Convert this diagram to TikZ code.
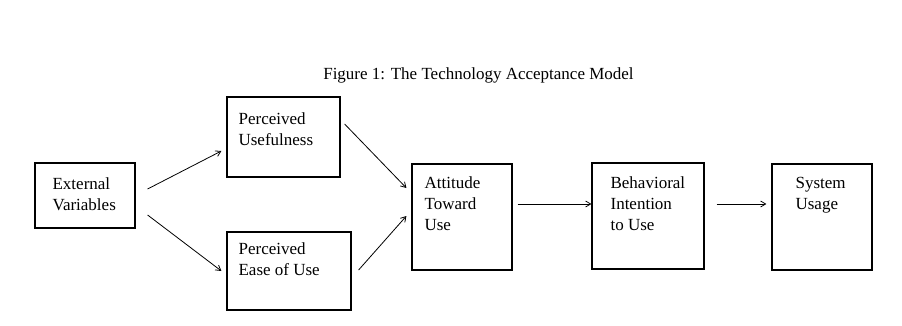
\documentclass[tikz,border=0pt]{standalone}
\usepackage{fontspec}
\setmainfont{Liberation Serif}
\usetikzlibrary{arrows.meta,calc}
\begin{document}
\begin{tikzpicture}[x=1pt,y=-1pt,
  box/.style={draw,line width=1.2pt,inner sep=0pt,minimum width=#1},
  txt/.style={font=\fontsize{17}{21}\selectfont,align=left,inner sep=0pt,anchor=base west},
  arr/.style={line width=0.8pt,-{Straight Barb[length=5pt,width=6pt]}}]
\useasboundingbox[fill=white] (0,0) rectangle (902,326);
\node[font=\fontsize{17}{21}\selectfont,inner sep=0pt,anchor=base] (title) at (478.5,80) {Figure 1: The Technology Acceptance Model};
% boxes
\node[box=100pt,minimum height=65pt] (ev) at (85,195.5) {};
\node[box=113pt,minimum height=80pt] (pu) at (283.5,137) {};
\node[box=124pt,minimum height=78pt] (peu) at (289,271) {};
\node[box=100pt,minimum height=106pt] (att) at (462,217) {};
\node[box=112pt,minimum height=106pt] (bi) at (648,216) {};
\node[box=100pt,minimum height=106pt] (su) at (822,217) {};
% texts (base anchor = baseline of last line)
\node[txt] (evt) at ($(ev.north west)+(18,48)$) {External\\Variables};
\node[txt] (put) at ($(pu.north west)+(12,49)$) {Perceived\\Usefulness};
\node[txt] (peut) at ($(peu.north west)+(12,44)$) {Perceived\\Ease of Use};
\node[txt] (attt) at ($(att.north west)+(13,67)$) {Attitude\\Toward\\Use};
\node[txt] (bit) at ($(bi.north west)+(19,68)$) {Behavioral\\Intention\\to Use};
\node[txt] (sut) at ($(su.north west)+(24,46)$) {System\\Usage};
% arrows
\draw[arr] ($(ev.east)+(12,-6.5)$) -- ($(pu.west)+(-5,14)$);
\draw[arr] ($(ev.east)+(12,19.5)$) -- ($(peu.west)+(-5,0)$);
\draw[arr] ($(pu.east)+(4,-13)$) -- ($(att.west)+(-5,-29)$);
\draw[arr] ($(peu.east)+(7,-1)$) -- ($(att.west)+(-5,-1)$);
\draw[arr] ($(att.east)+(5,-13)$) -- ($(bi.west)+(0,-12)$);
\draw[arr] ($(bi.east)+(12,-12)$) -- ($(su.west)+(-5,-13)$);
\end{tikzpicture}
\end{document}
